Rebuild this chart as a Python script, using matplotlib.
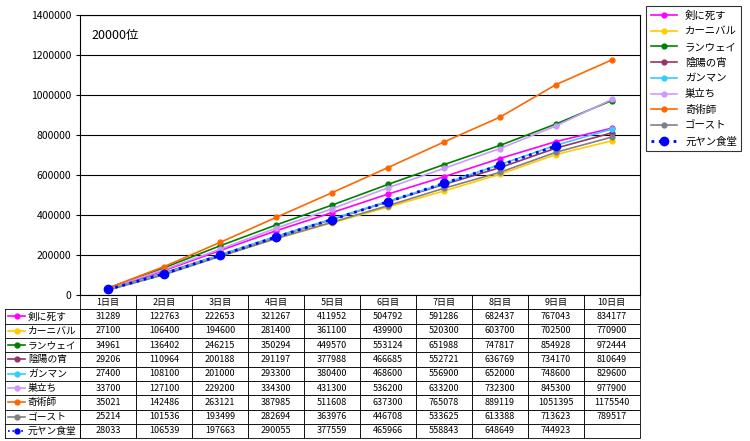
import matplotlib
matplotlib.use("Agg")
import matplotlib.pyplot as plt
from matplotlib.ticker import FuncFormatter

plt.rcParams["font.family"] = ["Noto Sans CJK JP", "DejaVu Sans"]

days = ["1日目","2日目","3日目","4日目","5日目","6日目","7日目","8日目","9日目","10日目"]
names = ["剣に死す","カーニバル","ランウェイ","陰陽の宵","ガンマン","巣立ち","奇術師","ゴースト","元ヤン食堂"]
s1 = [31289,122763,222653,321267,411952,504792,591286,682437,767043,834177]
s2 = [27100,106400,194600,281400,361100,439900,520300,603700,702500,770900]
s3 = [34961,136402,246215,350294,449570,553124,651988,747817,854928,972444]
s4 = [29206,110964,200188,291197,377988,466685,552721,636769,734170,810649]
s5 = [27400,108100,201000,293300,380400,468600,556900,652000,748600,829600]
s6 = [33700,127100,229200,334300,431300,536200,633200,732300,845300,977900]
s7 = [35021,142486,263121,387985,511608,637300,765078,889119,1051395,1175540]
s8 = [25214,101536,193499,282694,363976,446708,533625,613388,713623,789517]
s9 = [28033,106539,197663,290055,377559,465966,558843,648649,744923]
series = [s1,s2,s3,s4,s5,s6,s7,s8,s9]
colors = ["#ff00ff","#ffcc00","#008000","#993366","#33ccff","#cc99ff","#ff6600","#808080","#0000ff"]

fig = plt.figure(figsize=(7.5,4.41), dpi=100)
ax = fig.add_axes([0.107,0.331,0.746,0.635])
x = list(range(len(days)))
for i,(s,c,n) in enumerate(zip(series,colors,names)):
    if i == 8:
        ax.plot(x[:len(s)], s, color=c, ls=":", lw=2, marker="o", ms=6, label=n, zorder=5)
    else:
        ax.plot(x[:len(s)], s, color=c, lw=1.2, marker="o", ms=3.5, label=n)
ax.set_xlim(-0.5, 9.5)
ax.set_ylim(0, 1400000)
ax.set_yticks(range(0,1400001,200000))
ax.yaxis.set_major_formatter(FuncFormatter(lambda v,p: f"{int(v)}"))
ax.tick_params(axis="y", labelsize=7.5, length=3)
ax.set_xticks([])
ax.grid(axis="y", color="black", lw=0.8)
ax.set_axisbelow(True)
ax.text(0.02, 0.95, "20000位", transform=ax.transAxes, fontsize=9, va="top")

cell = [[f"{s[j]}" if j < len(s) else "" for j in range(10)] for s in series]
tab = ax.table(cellText=cell, colLabels=days, cellLoc="center", bbox=[0,-0.511,1,0.511])
tab.auto_set_font_size(False)
tab.set_fontsize(6.5)
for k,c in tab.get_celld().items():
    c.set_linewidth(0.6)

# row labels
lab = fig.add_axes([0.007, 0.007, 0.1, 0.0511*0.635*9/0.9*0.9*1.0])
h = 0.511*0.635/10
lab.set_position([0.007, 0.331-0.511*0.635, 0.1, h*9])
lab.set_xlim(0,1); lab.set_ylim(0,9)
lab.set_xticks([]); lab.set_yticks([])
for sp in lab.spines.values(): sp.set_linewidth(0.6)
for i,(c,n) in enumerate(zip(colors,names)):
    yy = 8.5 - i
    lab.axhline(i, color="black", lw=0.6)
    lab.plot([0.04,0.26],[yy,yy], color=c, lw=1.2, ls=":" if i==8 else "-")
    lab.plot([0.15],[yy], "o", color=c, ms=3.5)
    lab.text(0.3, yy, n, va="center", fontsize=7)

leg = fig.legend(loc="upper right", bbox_to_anchor=(0.995,0.998), fontsize=7.5, frameon=True,
                 fancybox=False, edgecolor="black", handlelength=2.5, labelspacing=0.55)
leg.get_frame().set_linewidth(0.8)
fig.savefig("out.png", dpi=100)
